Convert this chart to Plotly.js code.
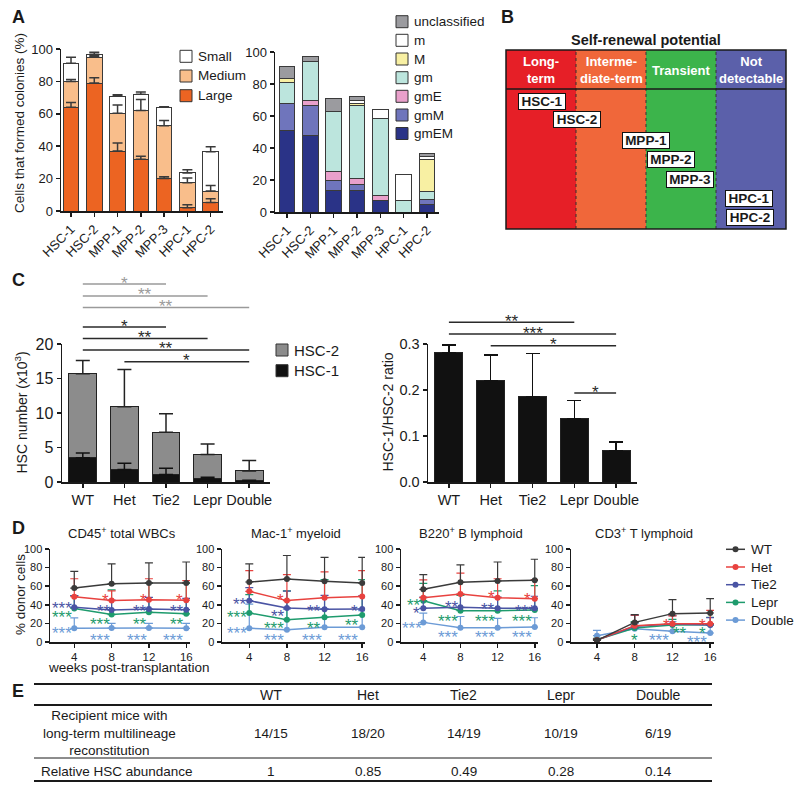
<!DOCTYPE html>
<html>
<head>
<meta charset="utf-8">
<script src="https://cdn.plot.ly/plotly-3.0.1.min.js"></script>
<style>
html, body { margin: 0; padding: 0; background: #fff; }
#fig { width: 800px; height: 791px; }
</style>
</head>
<body>
<div id="fig"></div>
<script>
var W = 800, H = 791;
function fx(p) { return p / W; }
function fy(p) { return 1 - p / H; }

// ---- panel A: colony size and lineage
var cellTypes = ["HSC-1", "HSC-2", "MPP-1", "MPP-2", "MPP-3", "HPC-1", "HPC-2"];
var sizeNames = ["Large", "Medium", "Small"];
var sizeColors = ["#EC6422", "#F9BE8B", "#FFFFFF"];
var largeColonies = [64, 79, 37, 32, 20, 2, 5.3];
var mediumColonies = [16, 16, 23.3, 30, 32.7, 15.5, 7];
var smallColonies = [11.2, 1.7, 10.5, 10, 11.3, 6, 24.3];
var largeErr = [3, 3.3, 5, 1.8, 1.2, 1.8, 2.3];
var mediumErr = [1.1, 1, 5.1, 6.8, 3.1, 2.9, 3.5];
var smallErr = [3.7, 1.3, 1, 1.5, 0.4, 2, 3.1];

var lineageNames = ["gmEM", "gmM", "gmE", "gm", "M", "m", "unclassified"];
var lineageColors = ["#2A3387", "#6F75BC", "#E9A0CB", "#BCE5DD", "#F8F0A3", "#FFFFFF", "#9B9B9F"];
var gmEM = [51, 48, 13.5, 13.5, 7, 0, 5];
var gmM = [17, 18.5, 6, 3.5, 0, 0, 3];
var gmE = [0, 3.5, 6, 4, 3.5, 0, 0];
var gm = [13, 24, 37.5, 45.5, 48, 7, 5];
var bigM = [2.5, 0, 0, 1.5, 0, 0, 20];
var smallM = [0, 0, 0, 2, 5.5, 16.5, 2];
var unclassified = [7.5, 3, 8, 2.5, 0, 0, 1.5];

// ---- panel B
var tierNames = ["Long-<br>term", "Interme-<br>diate-term", "Transient", "Not<br>detectable"];
var tierColors = ["#E61F27", "#F0673A", "#3CB44B", "#5B60AA"];
var populations = ["HSC-1", "HSC-2", "MPP-1", "MPP-2", "MPP-3", "HPC-1", "HPC-2"];
var populationBoxes = [[542, 101.5], [576.5, 120], [646, 140.5], [671, 160], [690, 179], [749, 198.5], [750, 217.5]];

// ---- panel C
var groups = ["WT", "Het", "Tie2", "Lepr", "Double"];
var hsc1Counts = [3.5, 1.8, 1.1, 0.5, 0.2];
var hsc2Counts = [12.2, 9.1, 6.1, 3.5, 1.4];
var hsc1Err = [0.7, 0.9, 0.9, 0.2, 0.05];
var hscTotalErr = [1.9, 5.4, 2.7, 1.5, 1.5];
var hscRatio = [0.282, 0.22, 0.185, 0.138, 0.069];
var hscRatioErr = [0.016, 0.056, 0.094, 0.039, 0.018];
// [from, to, label, color, height px]
var countBrackets = [
  ["WT", "Tie2", "*", "#9A9A9A", 284], ["WT", "Lepr", "**", "#9A9A9A", 296], ["WT", "Double", "**", "#9A9A9A", 307.5],
  ["WT", "Tie2", "*", "#2A2A2A", 327], ["WT", "Lepr", "**", "#2A2A2A", 338.5], ["WT", "Double", "**", "#2A2A2A", 350],
  ["Het", "Double", "*", "#2A2A2A", 361.7]
];
var ratioBrackets = [
  ["WT", "Lepr", "**", "#2A2A2A", 322.3], ["WT", "Double", "***", "#2A2A2A", 334],
  ["Het", "Double", "*", "#2A2A2A", 345.7], ["Lepr", "Double", "*", "#2A2A2A", 393]
];

// ---- panel D: % donor cells, rows = WT, Het, Tie2, Lepr, Double
var weeks = [4, 8, 12, 16];
var groupColors = ["#3A3A3A", "#E8423F", "#4A54A4", "#1E9B6D", "#6C9BD6"];
var cd45Mean = [[58, 62.5, 63.5, 63.5], [48.7, 44.5, 45.5, 45], [37.3, 34.4, 35.5, 34.8], [36, 29.5, 32, 30.3], [14.7, 15, 15, 14.7]];
var cd45Err = [[18, 21.5, 21.5, 22.5], [19.3, 10.5, 22.5, 21], [12.7, 10.6, 12.5, 12.2], [14, 26.5, 31, 32.7], [11.3, 5, 5, 5.3]];
var mac1Mean = [[64.5, 67.7, 65.2, 63.4], [54.5, 44.5, 47.7, 49], [44.4, 36.6, 35.1, 35.5], [31.2, 24, 26.5, 29], [14.7, 13.3, 15.8, 15.8]];
var mac1Err = [[19.5, 25.3, 25.8, 27.6], [22.2, 27.9, 27.6, 27.7], [14, 18, 15, 14], [19.8, 31, 40.5, 38], [26, 22, 20, 18]];
var b220Mean = [[56.6, 64.2, 65.6, 66.3], [47.7, 51.6, 47.7, 46.6], [36.2, 37.3, 36.2, 36.2], [44.4, 33.7, 33.7, 34.4], [21.1, 15.4, 15.4, 16.1]];
var b220Err = [[15.8, 18.8, 20.4, 22.7], [19, 22.4, 20.3, 20.4], [12, 14, 12, 13], [18.6, 16.3, 21.3, 26.2], [10, 12, 10, 10]];
var cd3Mean = [[1.8, 21.1, 30.5, 31.2], [2, 17.6, 19.7, 19.7], [2.2, 17, 19.4, 18.3], [2.5, 15, 18.3, 18.6], [6.8, 14.3, 11.5, 9.7]];
var cd3Err = [[1.2, 8.3, 15, 15.4], [1, 11.4, 8.3, 14.3], [1, 11.7, 9, 8], [1.5, 7, 6, 8], [5.7, 5.7, 10.5, 8.3]];
var lineageTitles = ["CD45<sup>+</sup> total WBCs", "Mac-1<sup>+</sup> myeloid", "B220<sup>+</sup> B lymphoid", "CD3<sup>+</sup> T lymphoid"];
// [week, value, label, group index]
var cd45Stars = [[2.65, 41.9, "***", 2], [2.65, 31.2, "***", 3], [2.65, 14, "***", 4], [7.37, 50.5, "*", 1], [7.19, 38.7, "**", 2], [6.76, 24.7, "***", 3], [6.76, 7.5, "***", 4],
  [11.37, 49.5, "*", 1], [11.05, 38.7, "**", 2], [11.05, 24.7, "**", 3], [10.72, 7.5, "***", 4], [15.23, 49.5, "*", 1], [15.0, 38.7, "**", 2], [15.0, 24.7, "**", 3], [14.58, 7.5, "***", 4]];
var mac1Stars = [[3.01, 45.2, "**", 2], [2.66, 31.2, "***", 3], [2.66, 14, "***", 4], [7.33, 49.5, "*", 1], [7.08, 32.3, "**", 2], [6.65, 19.4, "***", 3], [6.65, 7.5, "***", 4],
  [10.9, 38.7, "**", 2], [10.9, 20.4, "**", 3], [10.62, 7.5, "***", 4], [15.14, 38.7, "*", 2], [14.87, 22.6, "**", 3], [14.51, 7.5, "***", 4]];
var b220Stars = [[3.03, 44.1, "**", 3], [3.29, 35.5, "*", 2], [2.75, 20.4, "***", 4], [7.07, 42.3, "**", 2], [6.7, 27.2, "***", 3], [6.7, 10, "***", 4],
  [11.31, 52.7, "*", 1], [11.02, 39.8, "**", 2], [10.66, 27.2, "***", 3], [10.66, 10, "***", 4], [15.27, 51.6, "*", 1], [14.9, 38.7, "***", 2], [14.62, 27.2, "***", 3], [14.62, 10, "***", 4]];
var cd3Stars = [[7.97, 6.8, "*", 3], [11.33, 22.6, "*", 1], [12.82, 14.7, "**", 3], [10.59, 6.5, "***", 4], [15.23, 22.6, "*", 1], [15.23, 14, "*", 3], [16.61, 18, "*", 2], [14.59, 5, "***", 4]];

// ---- panel E
var reconstitution = ["14/15", "18/20", "14/19", "10/19", "6/19"];
var relativeAbundance = [1, 0.85, 0.49, 0.28, 0.14];

var ink = "#1A1A1A";
var starSize = 17;
var traces = [];
var shapes = [];
var annotations = [];

function note(xp, yp, text, size, extra) {
  var a = { xref: "paper", yref: "paper", x: fx(xp), y: fy(yp), text: text, showarrow: false,
    font: { size: size, color: ink }, xanchor: "center", yanchor: "middle" };
  return Object.assign(a, extra || {});
}

function errorOverlay(xa, ya, xs, ys, errs, color, cap) {
  return {
    type: "scatter", mode: "markers", x: xs, y: ys, xaxis: xa, yaxis: ya,
    marker: { size: 2, opacity: 0 }, hoverinfo: "skip", cliponaxis: false,
    error_y: { type: "data", symmetric: false, array: errs, arrayminus: errs.map(function () { return 0; }),
      color: color, thickness: 1.5, width: cap }
  };
}

function swatchLegend(names, colors, x0, ys, size, fontSize) {
  names.forEach(function (name, i) {
    shapes.push({ type: "rect", xref: "paper", yref: "paper", x0: fx(x0), x1: fx(x0 + size),
      y0: fy(ys[i] + size / 2), y1: fy(ys[i] - size / 2), fillcolor: colors[i], line: { color: "#333", width: 1 } });
    annotations.push(note(x0 + size + 4, ys[i], name, fontSize, { xanchor: "left" }));
  });
}

function axis(extra) {
  return Object.assign({
    showline: true, linecolor: ink, linewidth: 1.5, ticks: "outside", ticklen: 4, tickwidth: 1.5,
    tickcolor: ink, showgrid: false, zeroline: false, fixedrange: true, tickfont: { size: 13, color: ink }
  }, extra);
}

// A-left: stacked colony sizes
var sizeSeries = [largeColonies, mediumColonies, smallColonies];
var sizeErrors = [largeErr, mediumErr, smallErr];
sizeSeries.forEach(function (vals, i) {
  traces.push({ type: "bar", x: cellTypes, y: vals, xaxis: "x", yaxis: "y", name: sizeNames[i],
    marker: { color: sizeColors[i], line: { color: "#3A3A3A", width: 1 } } });
});
var running = cellTypes.map(function () { return 0; });
sizeSeries.forEach(function (vals, i) {
  running = running.map(function (r, k) { return r + vals[k]; });
  traces.push(errorOverlay("x", "y", cellTypes, running.slice(), sizeErrors[i], "#3A3A3A", 5));
});

// A-right: stacked lineage composition
[gmEM, gmM, gmE, gm, bigM, smallM, unclassified].forEach(function (vals, i) {
  traces.push({ type: "bar", x: cellTypes, y: vals, xaxis: "x2", yaxis: "y2", name: lineageNames[i],
    marker: { color: lineageColors[i], line: { color: "#3A3A3A", width: 1 } } });
});

// C-left: HSC numbers
traces.push({ type: "bar", x: groups, y: hsc1Counts, xaxis: "x3", yaxis: "y3", name: "HSC-1",
  marker: { color: "#111111", line: { color: "#222", width: 1 } } });
traces.push({ type: "bar", x: groups, y: hsc2Counts, xaxis: "x3", yaxis: "y3", name: "HSC-2",
  marker: { color: "#8C8C8C", line: { color: "#222", width: 1 } } });
traces.push(errorOverlay("x3", "y3", groups, hsc1Counts, hsc1Err, "#111", 7));
traces.push(errorOverlay("x3", "y3", groups, hsc1Counts.map(function (v, k) { return v + hsc2Counts[k]; }), hscTotalErr, "#222", 7));

// C-right: ratio
traces.push({ type: "bar", x: groups, y: hscRatio, xaxis: "x4", yaxis: "y4",
  marker: { color: "#111111", line: { color: "#222", width: 1 } },
  error_y: { type: "data", symmetric: false, array: hscRatioErr, arrayminus: [0, 0, 0, 0, 0], color: "#111", thickness: 1.5, width: 7 } });

// D: engraftment time courses
var dMeans = [cd45Mean, mac1Mean, b220Mean, cd3Mean];
var dErrs = [cd45Err, mac1Err, b220Err, cd3Err];
var dStars = [cd45Stars, mac1Stars, b220Stars, cd3Stars];
dMeans.forEach(function (panel, p) {
  var xa = "x" + (p + 5), ya = "y" + (p + 5);
  for (var g = groups.length - 1; g >= 0; g--) {
    traces.push({ type: "scatter", mode: "lines+markers", x: weeks, y: panel[g], xaxis: xa, yaxis: ya, name: groups[g],
      line: { color: groupColors[g], width: 1.5 }, marker: { color: groupColors[g], size: 6 }, cliponaxis: false,
      error_y: { type: "data", symmetric: false, array: dErrs[p][g], arrayminus: [0, 0, 0, 0],
        color: groupColors[g], thickness: 1.2, width: 4 } });
  }
  dStars[p].forEach(function (s) {
    annotations.push({ xref: xa, yref: ya, x: s[0], y: s[1], text: s[2], showarrow: false,
      font: { size: starSize, color: groupColors[s[3]] }, yshift: -5 });
  });
});

// significance brackets in C
function brackets(list, xa) {
  list.forEach(function (b) {
    var i0 = groups.indexOf(b[0]), i1 = groups.indexOf(b[1]);
    shapes.push({ type: "line", xref: xa, yref: "paper", x0: i0, x1: i1, y0: fy(b[4]), y1: fy(b[4]),
      line: { color: b[3], width: 1.5 } });
    annotations.push({ xref: xa, yref: "paper", x: (i0 + i1) / 2, y: fy(b[4] - 6), text: b[2], showarrow: false,
      font: { size: starSize, color: b[3] }, yshift: -5 });
  });
}
brackets(countBrackets, "x3");
brackets(ratioBrackets, "x4");

// legends
swatchLegend(sizeNames.slice().reverse(), sizeColors.slice().reverse(), 180, [56.3, 76, 95.7], 12, 13.5);
swatchLegend(lineageNames.slice().reverse(), lineageColors.slice().reverse(), 396, [21.7, 40.3, 59, 77.7, 96.3, 115, 133.5], 12, 13.5);
swatchLegend(["HSC-2", "HSC-1"], ["#8C8C8C", "#111111"], 276, [350, 370.7], 12, 15);
groups.forEach(function (g, i) {
  var yy = 549.3 + i * 17.7;
  shapes.push({ type: "line", xref: "paper", yref: "paper", x0: fx(726), x1: fx(745), y0: fy(yy), y1: fy(yy),
    line: { color: groupColors[i], width: 1.5 } });
  shapes.push({ type: "circle", xref: "paper", yref: "paper", x0: fx(732.5), x1: fx(738.5), y0: fy(yy + 3), y1: fy(yy - 3),
    fillcolor: groupColors[i], line: { color: groupColors[i], width: 0 } });
  annotations.push(note(749, yy, g, 13.5, { xanchor: "left" }));
});

// panel B diagram
var tierEdges = [506, 576, 646, 716, 786];
tierNames.forEach(function (t, i) {
  shapes.push({ type: "rect", xref: "paper", yref: "paper", x0: fx(tierEdges[i]), x1: fx(tierEdges[i + 1]),
    y0: fy(229), y1: fy(50), fillcolor: tierColors[i], line: { width: 0 }, layer: "below" });
  annotations.push(note((tierEdges[i] + tierEdges[i + 1]) / 2, 70, "<b>" + t + "</b>", 13, { font: { size: 13, color: "#FFFFFF" } }));
  if (i > 0) {
    shapes.push({ type: "line", xref: "paper", yref: "paper", x0: fx(tierEdges[i]), x1: fx(tierEdges[i]),
      y0: fy(229), y1: fy(50), line: { color: "#333", width: 1, dash: "dot" } });
  }
});
shapes.push({ type: "rect", xref: "paper", yref: "paper", x0: fx(506), x1: fx(786), y0: fy(229), y1: fy(50),
  line: { color: ink, width: 1.5 } });
shapes.push({ type: "line", xref: "paper", yref: "paper", x0: fx(506), x1: fx(786), y0: fy(89), y1: fy(89),
  line: { color: ink, width: 1.5 } });
annotations.push(note(645.5, 39.5, "<b>Self-renewal potential</b>", 14.5));
populations.forEach(function (p, i) {
  annotations.push(note(populationBoxes[i][0], populationBoxes[i][1], "<b>" + p + "</b>", 13.5,
    { bgcolor: "#FFFFFF", bordercolor: "#111", borderwidth: 1, borderpad: 0, width: 46 }));
});

// panel E table
var colX = [271, 368, 464, 561, 658];
[[684, 2], [705, 2], [758, 1], [781, 2]].forEach(function (l) {
  shapes.push({ type: "line", xref: "paper", yref: "paper", x0: fx(34), x1: fx(712), y0: fy(l[0]), y1: fy(l[0]),
    line: { color: ink, width: l[1] } });
});
groups.forEach(function (g, i) {
  annotations.push(note(colX[i], 694.5, g, 14));
  annotations.push(note(colX[i], 733, reconstitution[i], 13.5));
  annotations.push(note(colX[i], 771, String(relativeAbundance[i]), 13.5));
});
annotations.push(note(109, 733, "Recipient mice with<br>long-term multilineage<br>reconstitution", 13.5));
annotations.push(note(117, 771, "Relative HSC abundance", 13.5));

// titles and panel letters
annotations.push(note(20, 123, "Cells that formed colonies (%)", 13.5, { textangle: -90 }));
annotations.push(note(21.5, 413, "HSC number (x10<sup>3</sup>)", 14, { textangle: -90 }));
annotations.push(note(388, 412.5, "HSC-1/HSC-2 ratio", 14, { textangle: -90 }));
annotations.push(note(20, 595, "% donor cells", 13.5, { textangle: -90 }));
annotations.push(note(128.5, 667, "weeks post-transplantation", 13.5));
[121.7, 295.8, 470.8, 644].forEach(function (xc, i) {
  annotations.push(note(xc, 533, lineageTitles[i], 13));
});
[["A", 18, 17], ["B", 507, 17], ["C", 18, 279.5], ["D", 18, 527.5], ["E", 18, 691]].forEach(function (l) {
  annotations.push(note(l[1], l[2], "<b>" + l[0] + "</b>", 18));
});

var dDomains = [[50, 190], [222, 365], [401, 538], [571, 714]];
var dRanges = [[1.4, 16.4], [1.1, 16.3], [1.6, 16.35], [1.25, 16.4]];

var layout = {
  width: W, height: H, margin: { l: 0, r: 0, t: 0, b: 0 },
  paper_bgcolor: "#FFFFFF", plot_bgcolor: "rgba(0,0,0,0)", showlegend: false,
  barmode: "stack", bargap: 0.33,
  font: { family: "Liberation Sans, Arial, sans-serif", color: ink },
  xaxis: axis({ domain: [fx(61), fx(223)], anchor: "y", type: "category", range: [-0.43, 6.53], tickangle: -45 }),
  yaxis: axis({ domain: [fy(211), fy(49)], anchor: "x", range: [0, 100], dtick: 20 }),
  xaxis2: axis({ domain: [fx(275), fx(439)], anchor: "y2", type: "category", range: [-0.51, 6.51], tickangle: -45 }),
  yaxis2: axis({ domain: [fy(212), fy(52)], anchor: "x2", range: [0, 100], dtick: 20 }),
  xaxis3: axis({ domain: [fx(62), fx(270)], anchor: "y3", type: "category", range: [-0.5, 4.5], tickfont: { size: 14.5, color: ink } }),
  yaxis3: axis({ domain: [fy(482), fy(344)], anchor: "x3", range: [0, 20], dtick: 5, tickfont: { size: 16, color: ink } }),
  xaxis4: axis({ domain: [fx(428), fx(637)], anchor: "y4", type: "category", range: [-0.5, 4.5], tickfont: { size: 14.5, color: ink } }),
  yaxis4: axis({ domain: [fy(482), fy(344)], anchor: "x4", range: [0, 0.3], dtick: 0.1, tickformat: ".1f", tickfont: { size: 14.5, color: ink } }),
  shapes: shapes,
  annotations: annotations
};
dDomains.forEach(function (d, p) {
  layout["xaxis" + (p + 5)] = axis({ domain: [fx(d[0]), fx(d[1])], anchor: "y" + (p + 5), range: dRanges[p],
    tickvals: weeks, tickfont: { size: 11.5, color: ink } });
  layout["yaxis" + (p + 5)] = axis({ domain: [fy(642), fy(549)], anchor: "x" + (p + 5), range: [0, 100], dtick: 20,
    tickfont: { size: 11, color: ink } });
});

Plotly.newPlot("fig", traces, layout, { staticPlot: true, displayModeBar: false });
</script>
</body>
</html>
